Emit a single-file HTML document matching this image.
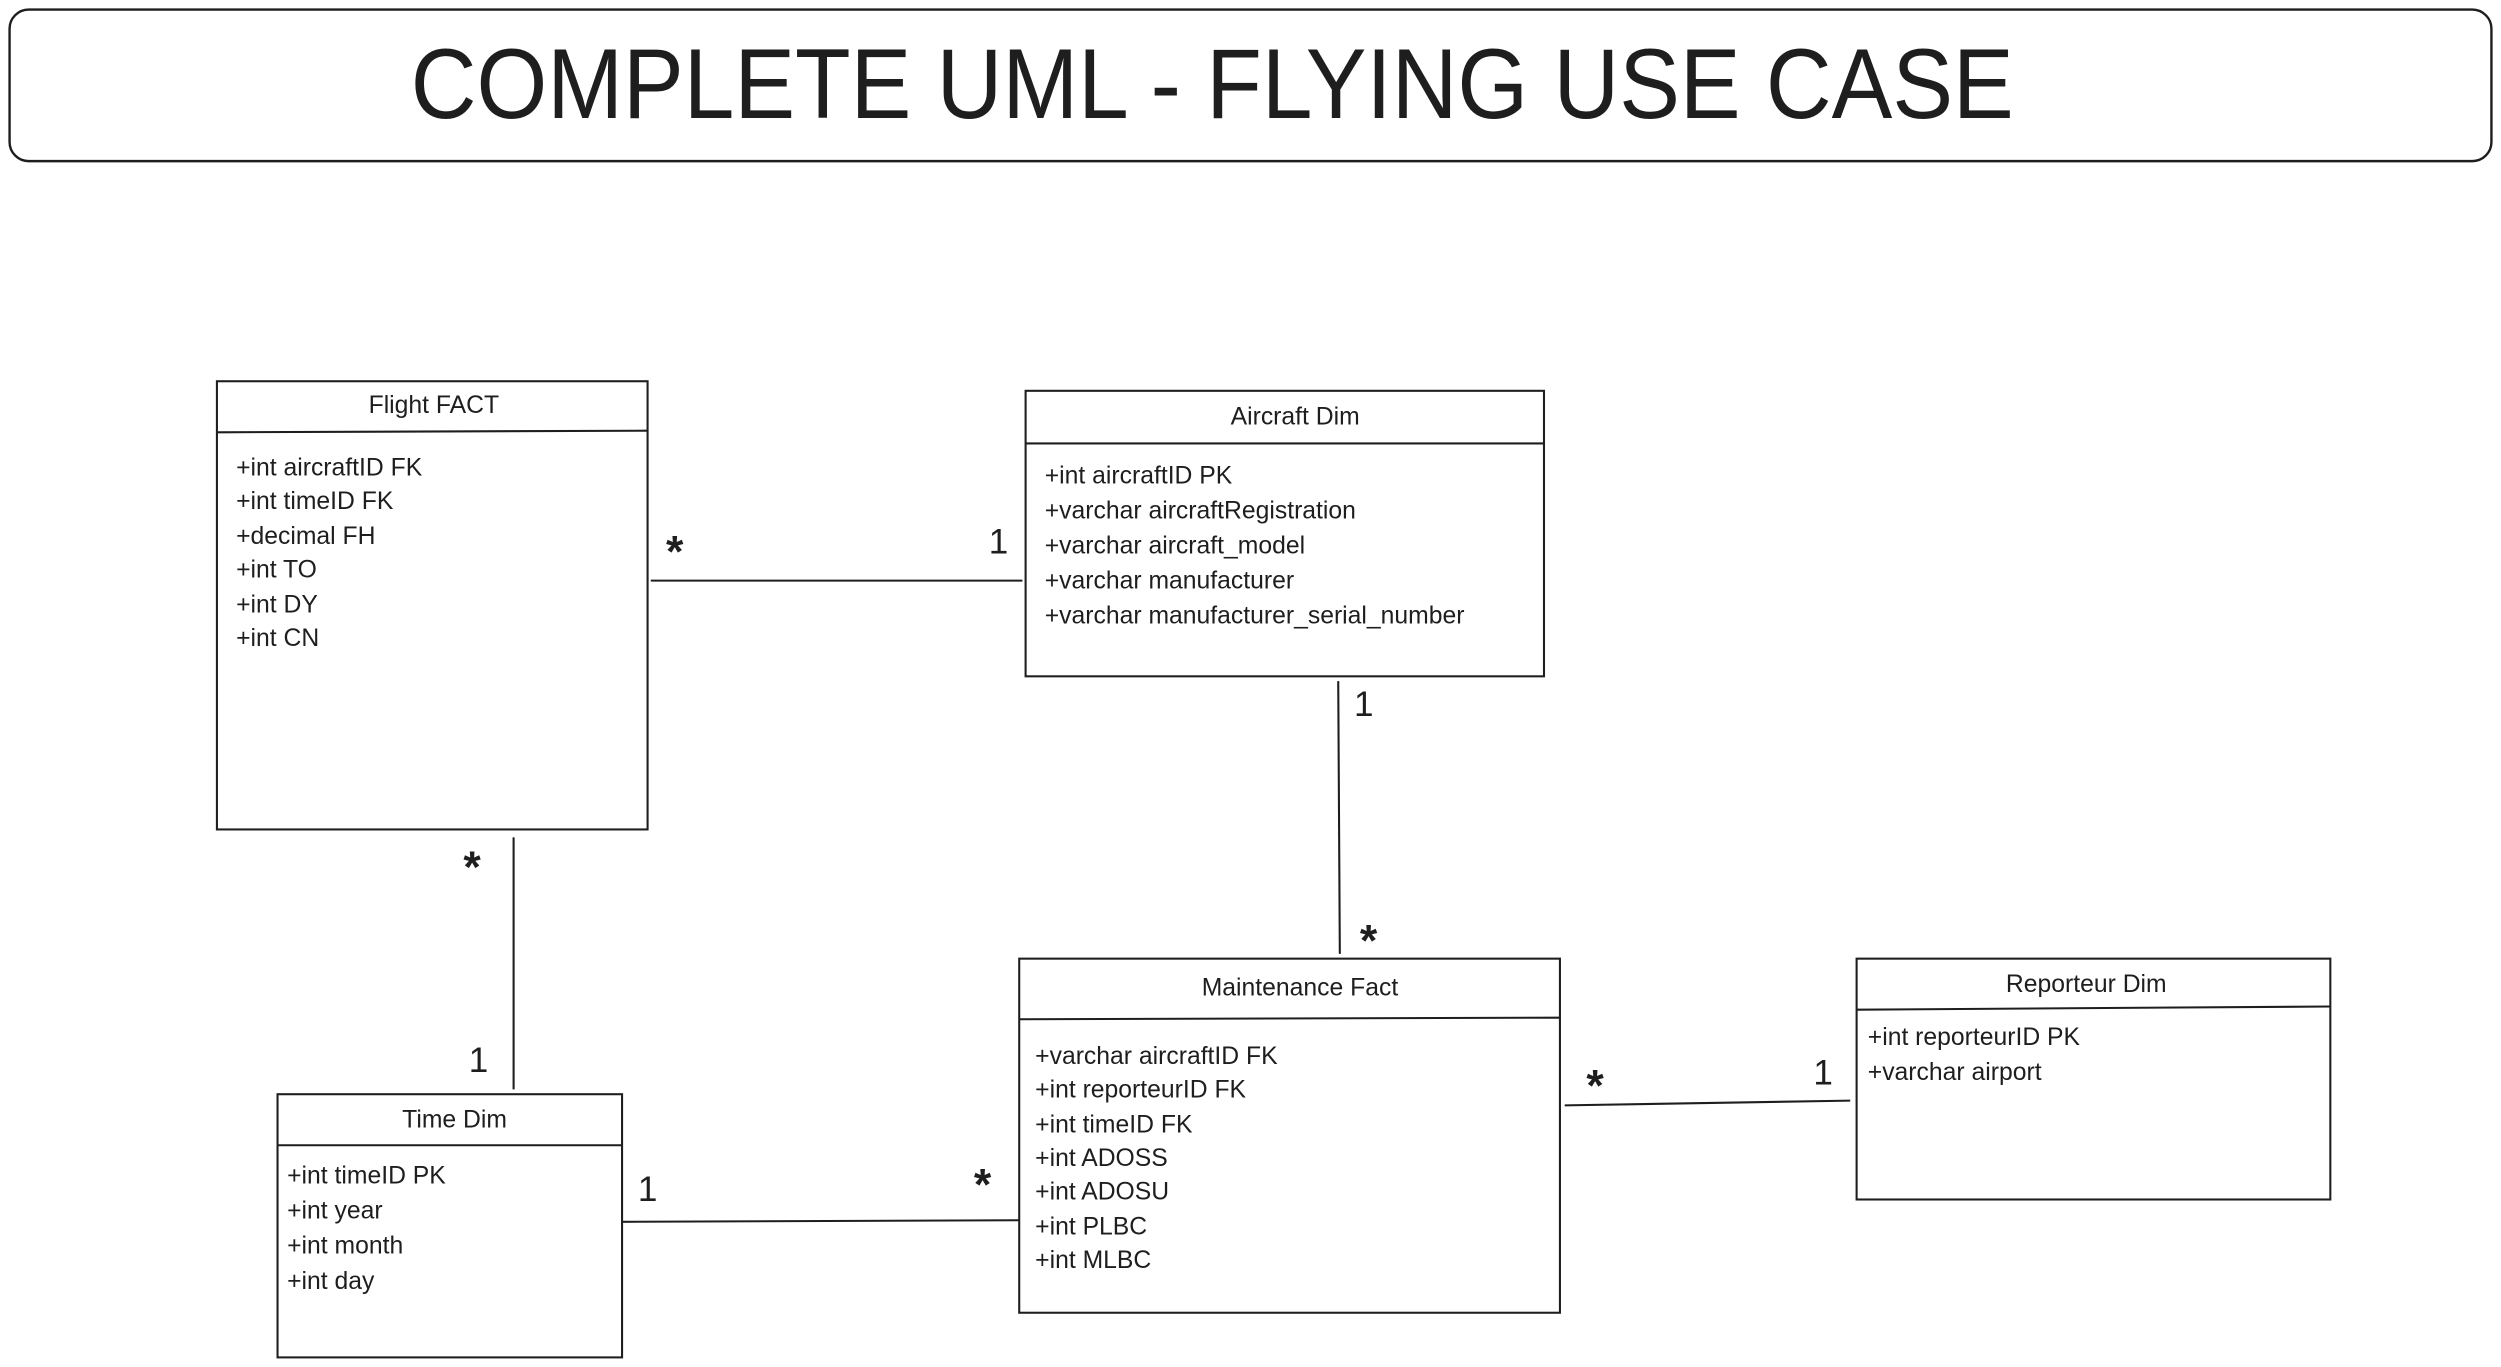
<!DOCTYPE html>
<html><head><meta charset="utf-8"><style>html,body{margin:0;padding:0;background:#fff}svg{display:block}</style></head>
<body>
<svg width="2501" height="1367" viewBox="0 0 1568 857" xmlns="http://www.w3.org/2000/svg" font-family="Liberation Sans, sans-serif" fill="#1e1e1e">
<rect x="6" y="6" width="1556" height="95" rx="12" fill="none" stroke="#1e1e1e" stroke-width="1.5"/>
<text x="760" y="74" font-size="62" text-anchor="middle" textLength="1005" lengthAdjust="spacingAndGlyphs">COMPLETE UML - FLYING USE CASE</text>
<g fill="none" stroke="#1e1e1e" stroke-width="1.3">
<rect x="136" y="239" width="270" height="281"/><line x1="136" y1="271" x2="406" y2="270"/>
<rect x="643" y="245" width="325" height="179"/><line x1="643" y1="278" x2="968" y2="278"/>
<rect x="639" y="601" width="339" height="222"/><line x1="639" y1="639" x2="978" y2="638"/>
<rect x="1164" y="601" width="297" height="151"/><line x1="1164" y1="633" x2="1461" y2="631"/>
<rect x="174" y="686" width="216" height="165"/><line x1="174" y1="718" x2="390" y2="718"/>
<line x1="408" y1="364" x2="641" y2="364"/>
<line x1="839" y1="427" x2="840" y2="598"/>
<line x1="322" y1="525" x2="322" y2="683"/>
<line x1="390" y1="766" x2="639" y2="765"/>
<line x1="981" y1="693" x2="1160" y2="690"/>
</g>
<g font-size="15.5">
<text x="272" y="259" text-anchor="middle">Flight FACT</text>
<text x="148" y="298">+int aircraftID FK</text>
<text x="148" y="319">+int timeID FK</text>
<text x="148" y="341">+decimal FH</text>
<text x="148" y="362">+int TO</text>
<text x="148" y="384">+int DY</text>
<text x="148" y="405">+int CN</text>
<text x="812" y="266" text-anchor="middle">Aircraft Dim</text>
<text x="655" y="303">+int aircraftID PK</text>
<text x="655" y="325">+varchar aircraftRegistration</text>
<text x="655" y="347">+varchar aircraft_model</text>
<text x="655" y="369">+varchar manufacturer</text>
<text x="655" y="391">+varchar manufacturer_serial_number</text>
<text x="815" y="624" text-anchor="middle">Maintenance Fact</text>
<text x="649" y="667">+varchar aircraftID FK</text>
<text x="649" y="688">+int reporteurID FK</text>
<text x="649" y="710">+int timeID FK</text>
<text x="649" y="731">+int ADOSS</text>
<text x="649" y="752">+int ADOSU</text>
<text x="649" y="774">+int PLBC</text>
<text x="649" y="795">+int MLBC</text>
<text x="1308" y="622" text-anchor="middle">Reporteur Dim</text>
<text x="1171" y="655">+int reporteurID PK</text>
<text x="1171" y="677">+varchar airport</text>
<text x="285" y="707" text-anchor="middle">Time Dim</text>
<text x="180" y="742">+int timeID PK</text>
<text x="180" y="764">+int year</text>
<text x="180" y="786">+int month</text>
<text x="180" y="808">+int day</text>
</g>
<g font-size="22" text-anchor="middle">
<text x="626" y="347">1</text>
<text x="855" y="449">1</text>
<text x="300" y="672">1</text>
<text x="406" y="753">1</text>
<text x="1143" y="680">1</text>
</g>
<g font-size="28" font-weight="bold" text-anchor="middle">
<text x="423" y="355">*</text>
<text x="858" y="599">*</text>
<text x="296" y="553">*</text>
<text x="616" y="752">*</text>
<text x="1000" y="690">*</text>
</g>
</svg>
</body></html>
